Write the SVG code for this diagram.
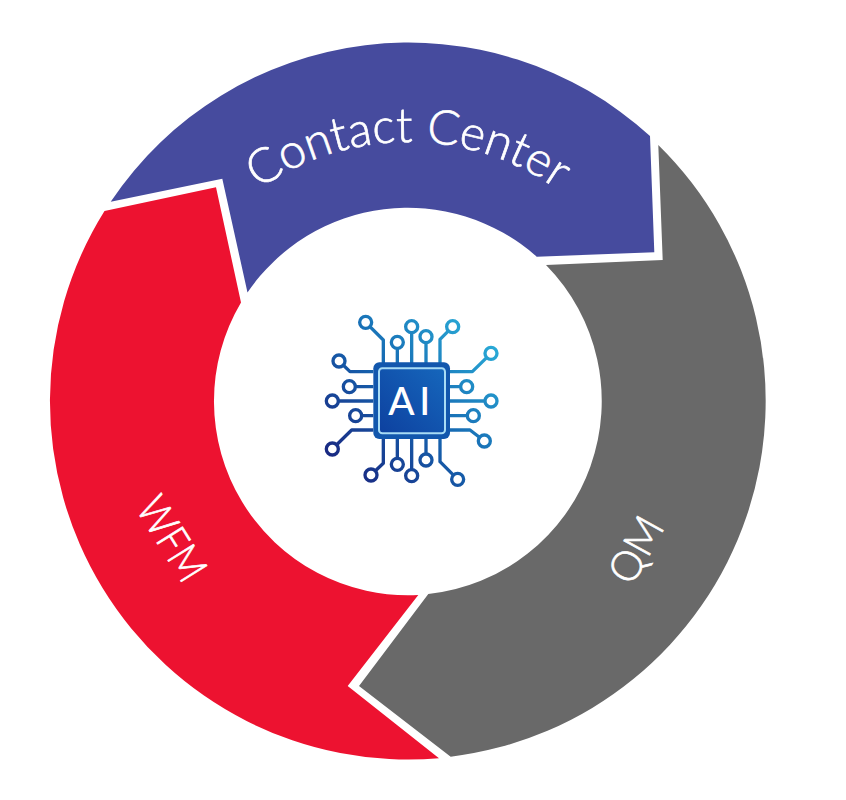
<svg xmlns="http://www.w3.org/2000/svg" width="846" height="800" viewBox="0 0 846 800">
<style>
.lbl{font-family:"Lato","Liberation Sans",sans-serif;font-weight:300;fill:#fff;stroke:#fff;stroke-width:.7}
.tr{fill:none;stroke:url(#g);stroke-width:10;stroke-linejoin:round}
.nd{fill:#fff;stroke:url(#g);stroke-width:10}
</style>
<defs>
<linearGradient id="g" gradientUnits="userSpaceOnUse" x1="60" y1="540" x2="550" y2="70">
<stop offset="0" stop-color="#1a1f7a"/><stop offset=".5" stop-color="#1565b0"/><stop offset="1" stop-color="#2cb4dc"/>
</linearGradient>
<linearGradient id="c" gradientUnits="userSpaceOnUse" x1="200" y1="410" x2="410" y2="195">
<stop offset="0" stop-color="#0d3f9e"/><stop offset="1" stop-color="#1668bd"/>
</linearGradient>
<path id="arcT" d="M 149 401 A 259 259 0 0 1 667 401"/>
</defs>
<rect width="846" height="800" fill="#fff"/>
<g id="node-contact-center">
<path fill="#464b9e" d="M110.7 201.7 A358.5 358.5 0 0 1 650 136 L654.3 252.3 L536.7 256.7 A194 194 0 0 0 247.5 292.5 L222.3 178.7 Z"/>
<text class="lbl" font-size="48"><textPath href="#arcT" startOffset="50%" text-anchor="middle">Contact Center</textPath></text>
</g>
<g id="node-qm">
<path fill="#696969" d="M658.3 145 A358.5 358.5 0 0 1 450.7 756.7 L359 686 L428.3 594 A194 194 0 0 0 546 265 L662.7 260 Z"/>
<text class="lbl" font-size="42" transform="translate(632 587) rotate(-61)" textLength="69" lengthAdjust="spacingAndGlyphs">QM</text>
</g>
<g id="node-wfm">
<path fill="#ed1230" d="M104.5 211 L216 187.3 L241 302.5 A194 194 0 0 0 418.3 595 L347.7 686 L439 758.3 A358.5 358.5 0 0 1 104.5 211 Z"/>
<text class="lbl" font-size="43" transform="translate(135 508) rotate(58)" textLength="91" lengthAdjust="spacingAndGlyphs">WFM</text>
</g>
<g id="node-ai" transform="translate(310 300) scale(.33333)">
<g id="connectors">
<path class="tr" d="M167 67L220 120V190M262 127V190M305 80V190M348 110V190M428 80L390 118V190M543 160L487 215H420M470 260H420M543 303H420M490 347H420M523 423L480 390H420M220 417V490L183 525M262 417V493M305 417V527M348 417V480M390 417V485L443 538M87 183L120 215H190M118 260H190M67 303H190M137 347H190M67 447L125 390H190"/>
</g>
<circle class="nd" cx="167" cy="67" r="18"/><circle class="nd" cx="262" cy="127" r="18"/><circle class="nd" cx="305" cy="80" r="18"/><circle class="nd" cx="348" cy="110" r="18"/><circle class="nd" cx="428" cy="80" r="18"/>
<circle class="nd" cx="543" cy="160" r="18"/><circle class="nd" cx="470" cy="260" r="18"/><circle class="nd" cx="543" cy="303" r="18"/><circle class="nd" cx="490" cy="347" r="18"/><circle class="nd" cx="523" cy="423" r="18"/>
<circle class="nd" cx="443" cy="538" r="18"/><circle class="nd" cx="348" cy="480" r="18"/><circle class="nd" cx="305" cy="527" r="18"/><circle class="nd" cx="262" cy="493" r="18"/><circle class="nd" cx="183" cy="525" r="18"/>
<circle class="nd" cx="67" cy="447" r="18"/><circle class="nd" cx="137" cy="347" r="18"/><circle class="nd" cx="67" cy="303" r="18"/><circle class="nd" cx="118" cy="260" r="18"/><circle class="nd" cx="87" cy="183" r="18"/>
<rect x="190" y="187" width="230" height="230" rx="18" fill="#1257ad"/>
<rect x="207" y="205" width="198" height="195" rx="10" fill="url(#c)" stroke="#a8dcf5" stroke-width="6"/>
<text x="305" y="345" font-family="Lato,'Liberation Sans',sans-serif" font-size="116" font-weight="500" letter-spacing="14" fill="#fff" text-anchor="middle">AI</text>
</g>
</svg>
